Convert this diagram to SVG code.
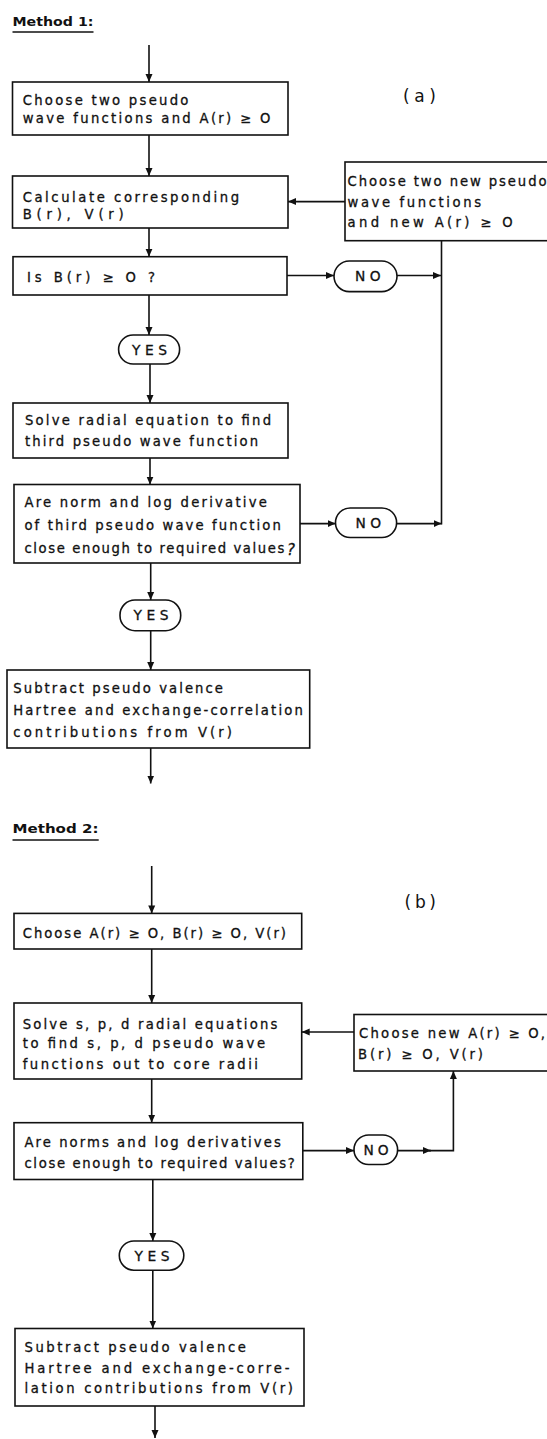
<svg xmlns="http://www.w3.org/2000/svg" width="547" height="1439" viewBox="0 0 547 1439">
<style>
.bg{fill:#fff}
.box{fill:#fff;stroke:#111;stroke-width:1.6}
.t{font-family:"DejaVu Sans","Liberation Sans",Arial,sans-serif;font-size:13.2px;fill:#111;stroke:#111;stroke-width:0.3}
.o{font-size:13.8px}
.h{font-family:"DejaVu Sans","Liberation Sans",Arial,sans-serif;font-size:12.5px;font-weight:bold;fill:#111}
.lbl{font-family:"DejaVu Sans","Liberation Sans",Arial,sans-serif;font-size:17px;fill:#111}
.c{fill:none;stroke:#111;stroke-width:1.6}
.ul{stroke:#111;stroke-width:1.4}
</style>
<defs>
<marker id="arr" markerUnits="userSpaceOnUse" markerWidth="9" markerHeight="8" refX="8" refY="4" orient="auto">
<path d="M0,0.5 L8,4 L0,7.5 z" fill="#111"/>
</marker>
</defs>
<rect class="bg" x="0" y="0" width="547" height="1439"/>

<g id="title1">
<text class="h" x="12.5" y="26" textLength="81" lengthAdjust="spacingAndGlyphs">Method 1:</text>
<line class="ul" x1="12.5" y1="32" x2="93.5" y2="32"/>
</g>
<g id="label-a"><text class="lbl" x="403" y="102" textLength="33" lengthAdjust="spacing">(a)</text></g>

<g id="m1-choose">
<rect class="box" x="12.5" y="82" width="275.5" height="53"/>
<text class="t" x="22.7" y="104.6" textLength="165.7" lengthAdjust="spacing">Choose two pseudo</text>
<text class="t" x="22.7" y="123" textLength="247.6" lengthAdjust="spacing">wave functions and A(r) ≥ O</text>
</g>
<g id="m1-calc">
<rect class="box" x="12.5" y="176" width="275.5" height="52"/>
<text class="t" x="22.7" y="201.6" textLength="216.3" lengthAdjust="spacing">Calculate corresponding</text>
<text class="t" x="22.7" y="218.5" textLength="101" lengthAdjust="spacing">B(r), V(r)</text>
</g>
<g id="m1-new">
<rect class="box" x="345" y="162" width="220" height="78.7"/>
<text class="t" x="347.5" y="185.5" textLength="199" lengthAdjust="spacing">Choose two new pseudo</text>
<text class="t" x="347.5" y="207" textLength="133.5" lengthAdjust="spacing">wave functions</text>
<text class="t" x="347.5" y="227" textLength="165.2" lengthAdjust="spacing">and new A(r) ≥ O</text>
</g>
<g id="m1-isb">
<rect class="box" x="13" y="256.7" width="274" height="38.3"/>
<text class="t" x="27" y="282" textLength="128" lengthAdjust="spacing">Is B(r) ≥ O ?</text>
</g>
<g id="m1-no1">
<rect class="box" x="334" y="261" width="63" height="30.6" rx="15.3"/>
<text class="t o" x="355" y="281" textLength="25.5" lengthAdjust="spacing">NO</text>
</g>
<g id="m1-yes1">
<rect class="box" x="118.6" y="335" width="61" height="29" rx="14.5"/>
<text class="t o" x="132" y="354.5" textLength="35" lengthAdjust="spacing">YES</text>
</g>
<g id="m1-solve">
<rect class="box" x="13" y="403" width="275" height="55"/>
<text class="t" x="25" y="425" textLength="246" lengthAdjust="spacing">Solve radial equation to find</text>
<text class="t" x="25" y="446" textLength="233" lengthAdjust="spacing">third pseudo wave function</text>
</g>
<g id="m1-norm">
<rect class="box" x="14" y="484.5" width="286" height="78.5"/>
<text class="t" x="24.4" y="507" textLength="242.4" lengthAdjust="spacing">Are norm and log derivative</text>
<text class="t" x="24.4" y="530" textLength="256.4" lengthAdjust="spacing">of third pseudo wave function</text>
<text class="t" x="24.4" y="552.5" textLength="260" lengthAdjust="spacing">close enough to required values</text>
<text class="t" x="287" y="555" style="font-size:15px;font-style:italic">?</text>
</g>
<g id="m1-no2">
<rect class="box" x="335.5" y="508" width="61.1" height="29.5" rx="14.7"/>
<text class="t o" x="355.5" y="527.5" textLength="25.5" lengthAdjust="spacing">NO</text>
</g>
<g id="m1-yes2">
<rect class="box" x="120" y="600" width="60.7" height="30.7" rx="15"/>
<text class="t o" x="133.5" y="620" textLength="35" lengthAdjust="spacing">YES</text>
</g>
<g id="m1-subtract">
<rect class="box" x="7" y="670" width="302.7" height="78"/>
<text class="t" x="13.3" y="692.8" textLength="209.7" lengthAdjust="spacing">Subtract pseudo valence</text>
<text class="t" x="13.3" y="715.4" textLength="289.5" lengthAdjust="spacing">Hartree and exchange-correlation</text>
<text class="t" x="13.3" y="737.4" textLength="218.7" lengthAdjust="spacing">contributions from V(r)</text>
</g>

<g id="title2">
<text class="h" x="12.5" y="833" textLength="86" lengthAdjust="spacingAndGlyphs">Method 2:</text>
<line class="ul" x1="12.5" y1="840" x2="98.7" y2="840"/>
</g>
<g id="label-b"><text class="lbl" x="404.6" y="908" textLength="31.4" lengthAdjust="spacing">(b)</text></g>

<g id="m2-choose">
<rect class="box" x="14" y="913.4" width="287.7" height="35.6"/>
<text class="t" x="22.7" y="937.8" textLength="263.3" lengthAdjust="spacing">Choose A(r) ≥ O, B(r) ≥ O, V(r)</text>
</g>
<g id="m2-solve">
<rect class="box" x="14" y="1003" width="287.7" height="76"/>
<text class="t" x="22.7" y="1028.5" textLength="254.6" lengthAdjust="spacing">Solve s, p, d radial equations</text>
<text class="t" x="22.7" y="1047.6" textLength="242.3" lengthAdjust="spacing">to find s, p, d pseudo wave</text>
<text class="t" x="22.7" y="1068.6" textLength="235.3" lengthAdjust="spacing">functions out to core radii</text>
</g>
<g id="m2-new">
<rect class="box" x="354" y="1014.5" width="210" height="56.5"/>
<text class="t" x="359" y="1038" textLength="186" lengthAdjust="spacing">Choose new A(r) ≥ O,</text>
<text class="t" x="358" y="1059" textLength="125" lengthAdjust="spacing">B(r) ≥ O, V(r)</text>
</g>
<g id="m2-norms">
<rect class="box" x="14" y="1122.7" width="288.8" height="56.8"/>
<text class="t" x="24.4" y="1147" textLength="256.4" lengthAdjust="spacing">Are norms and log derivatives</text>
<text class="t" x="24.4" y="1168" textLength="270.3" lengthAdjust="spacing">close enough to required values?</text>
</g>
<g id="m2-no">
<rect class="box" x="354" y="1135" width="43.6" height="29.5" rx="14.7"/>
<text class="t o" x="363.5" y="1155" textLength="25" lengthAdjust="spacing">NO</text>
</g>
<g id="m2-yes">
<rect class="box" x="119.3" y="1241" width="64.5" height="29.2" rx="14.6"/>
<text class="t o" x="134.5" y="1260.5" textLength="35" lengthAdjust="spacing">YES</text>
</g>
<g id="m2-subtract">
<rect class="box" x="15" y="1328.5" width="289" height="77.5"/>
<text class="t" x="24.4" y="1351.8" textLength="221.6" lengthAdjust="spacing">Subtract pseudo valence</text>
<text class="t" x="24.4" y="1372.8" textLength="265.1" lengthAdjust="spacing">Hartree and exchange-corre-</text>
<text class="t" x="24.4" y="1393" textLength="268.6" lengthAdjust="spacing">lation contributions from V(r)</text>
</g>

<g id="connectors">
<path class="c" d="M149,45 V82" marker-end="url(#arr)"/>
<path class="c" d="M149,135 V176" marker-end="url(#arr)"/>
<path class="c" d="M345,201.6 H288" marker-end="url(#arr)"/>
<path class="c" d="M149,228 V256.7" marker-end="url(#arr)"/>
<path class="c" d="M287,275.5 H334" marker-end="url(#arr)"/>
<path class="c" d="M397,275.5 H441" marker-end="url(#arr)"/>
<path class="c" d="M441.5,240.7 V524.4"/>
<path class="c" d="M149,295 V335" marker-end="url(#arr)"/>
<path class="c" d="M150,364 V403" marker-end="url(#arr)"/>
<path class="c" d="M150,458 V484.5" marker-end="url(#arr)"/>
<path class="c" d="M300,523.6 H335.5" marker-end="url(#arr)"/>
<path class="c" d="M396.6,523.6 H441.5" marker-end="url(#arr)"/>
<path class="c" d="M150.7,563 V600" marker-end="url(#arr)"/>
<path class="c" d="M150.7,630.7 V670" marker-end="url(#arr)"/>
<path class="c" d="M150.7,748 V783.5" marker-end="url(#arr)"/>

<path class="c" d="M151.7,866 V913.4" marker-end="url(#arr)"/>
<path class="c" d="M151.7,949 V1003" marker-end="url(#arr)"/>
<path class="c" d="M354,1032 H301.7" marker-end="url(#arr)"/>
<path class="c" d="M151.7,1079 V1122.7" marker-end="url(#arr)"/>
<path class="c" d="M302.8,1150.6 H354" marker-end="url(#arr)"/>
<path class="c" d="M397.6,1150.6 H431" marker-end="url(#arr)"/>
<path class="c" d="M429,1150.6 H453.4 V1071" marker-end="url(#arr)"/>
<path class="c" d="M152.8,1179.5 V1241" marker-end="url(#arr)"/>
<path class="c" d="M152.8,1270.2 V1328.5" marker-end="url(#arr)"/>
<path class="c" d="M155,1406 V1438" marker-end="url(#arr)"/>
</g>
</svg>
